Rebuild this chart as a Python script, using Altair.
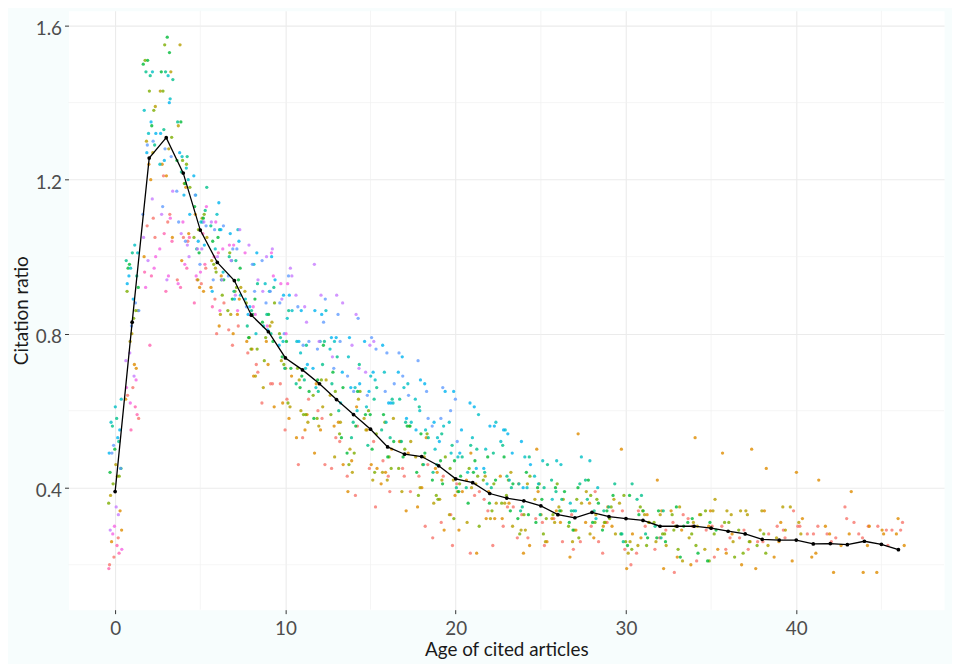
import altair as alt
import pandas as pd

# ---- data (values in hundredths, one string per sub-series, index = age) ----
GROUPS = ["g01", "g02", "g03", "g04", "g05", "g06", "g07", "g08", "g09", "g10", "g11", "g12"]
COLORS = ["#F8766D", "#DE8C00", "#B79F00", "#7CAE00", "#00BA38", "#00C08B",
          "#00BFC4", "#00B4F0", "#619CFF", "#C77CFF", "#F564E3", "#FF64B0"]

SALMON = [
    "20 58 110 109 105 97 80 82 72 67 55 63 58 45 38 52 43 45 30 43 25 39 34 30 27 32 32 24 39 23 24 34 29 18 32 30 24 27 28 29 30 28 27 32 30 29 29",
    "27 66 108 111 104 94 88 77 75 62 67 46 60 52 43 45 47 39 43 27 41 23 37 35 27 31 33 26 30 34 20 30 27 33 21 29 27 24 26 30 30 30 28 31 27 30 29",
    "22 64 105 121 94 93 89 81 70 67 63 53 46 53 56 35 39 43 46 31 33 38 25 35 33 25 26 33 26 31 34 23 24 31 30 22 30 29 26 27 34 28 26 35 28 25 31",
]
ORANGE = [
    "34 72 124 105 118 111 82 85 76 78 58 59 67 46 47 55 41 52 35 44 29 42 39 32 25 39 32 29 36 30 28 33 34 22 33 34 28 26 34 26 32 23 30 28 25 29 28",
    "26 63 100 124 99 91 92 80 78 61 62 53 55 56 39 45 50 34 40 29 38 23 32 36 23 26 31 22 27 30 19 27 19 29 20 24 23 20 19 22 21 22 18 25 18 18 25",
    "29 71 120 121 106 92 95 89 69 72 69 55 49 57 61 46 44 49 53 45 39 49 32 43 41 50 34 54 31 35 50 31 42 34 53 30 49 50 45 31 44 42 28 39 30 28 32",
]
MUSTARD = [
    "46 78 127 148 155 105 97 85 91 66 73 60 61 64 44 55 58 39 48 37 42 31 36 44 29 33 37 29 33 37 23 34 25 35 27 34 33 34 29 35 28",
    "38 86 130 143 119 94 99 92 69 82 71 57 56 57 63 42 42 52 48 36 39 41 32 36 41 26 31 36 28 31 36 25 26 30 30 24 34 34 25 27 35",
    "43 80 139 128 134 110 85 91 79 83 61 68 68 48 50 58 44 52 40 42 33 40 43 30 29 37 35 26 39 28 26 33 33 21 31 37 26 33 34 29 31",
]
GREEN = [
    "36 91 151 155 124 105 96 101 76 79 80 59 58 59 65 44 48 50 54 37 41 43 34 38 43 28 33 37 31 32 38 25 28 29 33 21 31 29 25",
    "43 84 143 131 125 111 90 92 76 88 62 71 68 54 49 60 45 56 38 48 32 45 42 36 28 41 34 30 38 31 24 35 31 24 28 34 22 26 28",
    "41 86 138 143 118 107 98 86 88 73 72 59 64 65 46 54 57 45 46 38 45 30 41 42 33 32 41 27 37 35 26 31 28 33 25 28 31 23 23",
]
BRIGHT_GREEN = [
    "45 98 150 157 135 113 94 94 85 85 71 69 77 53 56 59 52 56 44 47 39 44 48 34 33 40 39 29 42 29 28 33 34 22 31 31",
    "50 92 134 148 119 110 105 89 89 78 74 65 68 70 49 59 59 48 49 42 47 36 42 48 32 37 40 31 36 38 25 34 26 35 23 29",
    "44 97 151 153 125 101 104 97 79 83 78 66 58 66 65 50 48 56 54 41 43 47 36 41 44 31 34 40 31 34 38 27 27 30 32 21",
]
TEAL = [
    "58 101 129 148 126 112 107 91 93 80 79 68 72 74 53 63 63 52 53 46 51 40 44 51 35 40 42 34 37 41 26 37 27",
    "52 95 148 146 122 102 108 100 82 85 86 67 65 67 72 51 55 57 61 44 48 50 40 43 48 33 37 41 34 35 41 28 30",
    "56 99 147 133 135 118 94 99 86 92 71 77 78 60 57 66 53 63 46 54 40 51 49 40 34 46 39 34 42 34 28 38 34",
]
CYAN = [
    "63 103 138 147 123 109 102 107 80 93 86 75 66 76 74 61 57 67 63 53 49 59 41 52 48 41 37 48 32",
    "57 97 148 124 126 116 96 99 89 91 78 78 86 62 66 69 62 66 55 56 48 53 57 42 41 47 46 34 47",
    "61 101 132 141 120 109 111 90 98 82 84 71 78 78 60 68 70 57 60 50 57 44 50 55 40 43 47 36 40",
]
LIGHT_BLUE = [
    "55 95 132 125 127 121 91 106 87 100 77 86 86 70 66 78 62 74 55 65 49 61 56 49 40",
    "49 89 127 132 111 103 114 89 101 81 90 72 85 79 67 70 77 58 67 52 65 45 56 55 46",
    "53 93 135 140 116 104 107 104 85 94 90 78 71 79 79 65 62 70 68 57 55 62 45 54 52",
]
BLUE = [
    "51 88 111 128 109 108 107 95 98 88 88 78 83 85 65 76 75 64 65 58 63",
    "45 82 130 126 104 98 108 102 87 91 95 77 76 78 84 64 67 69 73 56 60",
    "49 86 129 113 117 116 94 102 91 99 80 87 89 71 69 79 65 75 58 66 52",
]
PURPLE = [
    "35 75 105 117 103 102 100 107 85 102 97 87 78 88 85 70",
    "29 69 115 94 106 109 94 99 94 100 89 90 98 74 77 78",
    "33 73 99 111 100 102 109 90 103 91 95 83 90 90 71 77",
]
MAGENTA = [
    "30 68 97 95 109 113 86 103 87 101 80",
    "24 62 92 102 93 95 109 86 101 82 93",
    "28 66 100 110 98 96 102 103 85 95 93",
]
PINK = [
    "25 61 77 106 97 98 100",
    "19 55 96 104 92 88 101",
    "23 59 95 91 105 106 87",
]
GROUP_ROWS = [SALMON, ORANGE, MUSTARD, GREEN, BRIGHT_GREEN, TEAL,
              CYAN, LIGHT_BLUE, BLUE, PURPLE, MAGENTA, PINK]

# horizontal jitter offsets (years)
JITTER = [-0.33, 0.18, -0.07, 0.29, -0.21, 0.38, 0.04, -0.27, 0.13, -0.38,
          0.24, -0.12, 0.34, -0.02, -0.30, 0.09, 0.21, -0.16, 0.36, -0.24,
          0.01, 0.27, -0.35, 0.15, -0.09, 0.32, -0.19, 0.06, -0.29, 0.19,
          -0.04, 0.39, -0.14, 0.11, -0.37, 0.23, -0.11]

# mean citation ratio by age (black line)
MEAN_AGE = list(range(47))
MEAN_RATIO = [0.39, 0.83, 1.256, 1.309, 1.217, 1.069, 0.985, 0.938, 0.848, 0.805,
              0.737, 0.706, 0.670, 0.629, 0.590, 0.552, 0.506, 0.487, 0.481, 0.457,
              0.423, 0.413, 0.385, 0.373, 0.366, 0.353, 0.330, 0.322, 0.336, 0.325,
              0.320, 0.315, 0.300, 0.300, 0.300, 0.295, 0.287, 0.280, 0.266, 0.264,
              0.264, 0.254, 0.255, 0.252, 0.261, 0.253, 0.239]

X_TICKS = [0, 10, 20, 30, 40]
Y_TICKS = [0.4, 0.8, 1.2, 1.6]
MINOR_X = [5, 15, 25, 35, 45]
MINOR_Y = [0.2, 0.6, 1.0, 1.4]

# ---- build tables ----
rows = []
row_idx = 0
for name, series in zip(GROUPS, GROUP_ROWS):
    for s in series:
        for age, v in enumerate(s.split()):
            j = JITTER[(row_idx + 5 * age) % len(JITTER)]
            rows.append({"group": name, "x": age + j, "y": int(v) / 100})
        row_idx += 1
points = pd.DataFrame(rows)
mean_df = pd.DataFrame({"x": MEAN_AGE, "y": MEAN_RATIO})

FONT = "Lato"
x_scale = alt.Scale(domain=[-2.74, 48.68], nice=False, zero=False)
y_scale = alt.Scale(domain=[0.0833, 1.6386], nice=False, zero=False)

x_axis = alt.Axis(values=X_TICKS, format="d", title="Age of cited articles",
                  grid=True, gridColor="#ebebeb", gridWidth=1.1, domain=False,
                  ticks=True, tickSize=4, tickColor="#333333", tickWidth=1,
                  labelFont=FONT, labelFontSize=19, labelColor="#4d4d4d",
                  labelBaseline="alphabetic", labelPadding=21, labelFlush=False,
                  titleFont=FONT, titleFontSize=19, titleFontWeight="normal",
                  titleColor="#1a1a1a", titleX=441.5, titleY=46,
                  titleAlign="center", titleBaseline="alphabetic")
y_axis = alt.Axis(values=Y_TICKS, format=".1f", title="Citation ratio",
                  grid=True, gridColor="#ebebeb", gridWidth=1.1, domain=False,
                  ticks=True, tickSize=4, tickColor="#333333", tickWidth=1,
                  labelFont=FONT, labelFontSize=19, labelColor="#4d4d4d",
                  labelBaseline="middle", labelPadding=3, labelOffset=3,
                  labelAlign="right",
                  titleFont=FONT, titleFontSize=19, titleFontWeight="normal",
                  titleColor="#1a1a1a", titleAngle=270, titleX=-41, titleY=302,
                  titleAlign="center", titleBaseline="alphabetic")

X = alt.X("x:Q", scale=x_scale, axis=x_axis)
Y = alt.Y("y:Q", scale=y_scale, axis=y_axis)

vgrid = alt.Chart(pd.DataFrame({"x": MINOR_X})).mark_rule(
    color="#f1f1f1", strokeWidth=0.7).encode(x=X)
hgrid = alt.Chart(pd.DataFrame({"y": MINOR_Y})).mark_rule(
    color="#f1f1f1", strokeWidth=0.7).encode(y=Y)

scatter = alt.Chart(points).mark_circle(size=11, opacity=0.8).encode(
    x=X, y=Y,
    color=alt.Color("group:N", scale=alt.Scale(domain=GROUPS, range=COLORS), legend=None),
)

line = alt.Chart(mean_df).mark_line(color="black", strokeWidth=1.3).encode(x=X, y=Y)
dots = alt.Chart(mean_df).mark_circle(color="black", size=14, opacity=1).encode(x=X, y=Y)

chart = alt.layer(vgrid, hgrid, scatter, line, dots).properties(
    width=883, height=604,
    background="#f7fdfd",
    padding={"left": 61, "top": 0, "right": 8, "bottom": 52},
    autosize=alt.AutoSizeParams(type="none"),
).configure_view(fill="white", stroke="transparent")

chart.save("out.html", embed_options={"renderer": "svg", "actions": False})
